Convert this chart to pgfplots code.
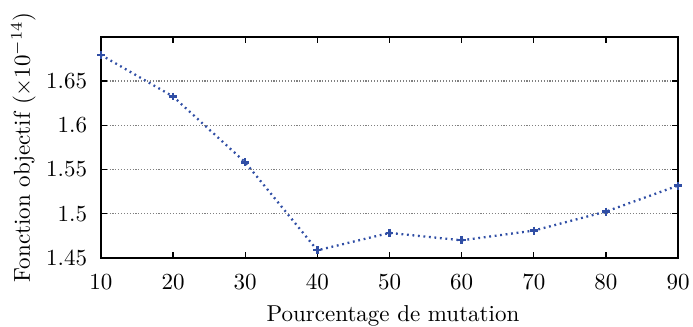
\documentclass[border=0pt]{standalone}
\usepackage{pgfplots}
\pgfplotsset{compat=1.18}
\definecolor{lineblue}{RGB}{48,78,165}
\begin{document}
\begin{tikzpicture}
\begin{axis}[
  width=250.9pt, height=96.1pt, scale only axis,
  xmin=10, xmax=90, ymin=1.45, ymax=1.70,
  xtick={10,20,...,90},
  ytick={1.45,1.5,1.55,1.6,1.65},
  yticklabels={1.45,1.5,1.55,1.6,1.65},
  tick align=inside,
  major tick length=2.7pt,
  ymajorgrids,
  grid style={gray, line width=0.45pt, dash pattern=on 0.45pt off 0.8pt},
  axis line style={line width=0.85pt},
  tick style={line width=0.6pt, black},
  xlabel={Pourcentage de mutation},
  ylabel={Fonction objectif ($\times 10^{-14}$)},
  xticklabel style={anchor=north, yshift=-4pt, inner xsep=1pt},
  yticklabel style={xshift=-2.5pt},
  xlabel style={at={(axis description cs:0.506,-0.2893)}, anchor=base, inner sep=0pt},
  ylabel style={at={(axis description cs:-0.1232,0.5)}, anchor=base, inner sep=1pt},
]
\addplot[color=lineblue, line width=1pt, dash pattern=on 0.8pt off 1.6pt,
  mark=+, mark size=1.7pt, mark options={solid, line width=1pt}]
  coordinates {
  (10,1.6795) (20,1.6324) (30,1.558) (40,1.4585) (50,1.4782)
  (60,1.4698) (70,1.4808) (80,1.5023) (90,1.5317)
  };
\end{axis}
\path (current axis.south west) ++(-43.9pt,-30pt);
\path (current axis.north east) ++(6.5pt,16pt);
\end{tikzpicture}
\end{document}
